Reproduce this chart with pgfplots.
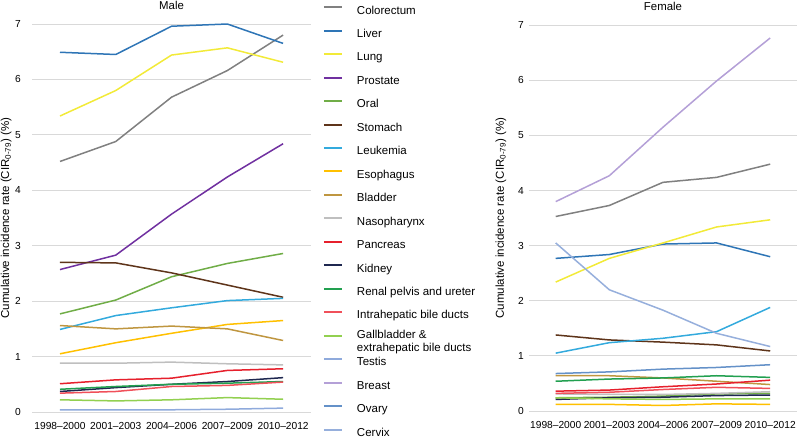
\documentclass[border=0pt]{standalone}
\usepackage{fontspec}
\setmainfont{Liberation Sans}
\usepackage{pgfplots}
\pgfplotsset{compat=1.18}

\definecolor{ccolorectum}{RGB}{128,128,128}
\definecolor{cliver}{RGB}{46,117,182}
\definecolor{clung}{RGB}{242,234,56}
\definecolor{cprostate}{RGB}{112,48,160}
\definecolor{coral}{RGB}{112,173,71}
\definecolor{cstomach}{RGB}{94,52,26}
\definecolor{cleukemia}{RGB}{51,170,221}
\definecolor{cesophagus}{RGB}{255,192,0}
\definecolor{cbladder}{RGB}{191,150,64}
\definecolor{cnaso}{RGB}{191,191,191}
\definecolor{cpancreas}{RGB}{230,32,44}
\definecolor{ckidney}{RGB}{31,40,80}
\definecolor{crenal}{RGB}{34,160,80}
\definecolor{cintrahep}{RGB}{240,80,90}
\definecolor{cgall}{RGB}{146,208,80}
\definecolor{ctestis}{RGB}{143,170,220}
\definecolor{cbreast}{RGB}{180,160,215}
\definecolor{covary}{RGB}{100,145,200}
\definecolor{ccervix}{RGB}{150,175,220}
\definecolor{gridgray}{RGB}{217,217,217}

\pgfplotsset{
  panel/.style={
    scale only axis,
    anchor=south west,
    xmin=-0.5, xmax=4.5, ymin=0, ymax=7,
    xtick={0,1,2,3,4},
    xticklabels={1998--2000,2001--2003,2004--2006,2007--2009,2010--2012},
    ytick={0,1,2,3,4,5,6,7},
    ymajorgrids, grid style={gridgray, line width=0.9pt},
    axis line style={draw=none},
    major tick length=0pt,
    /pgf/number format/assume math mode=true,
    tick label style={font=\fontsize{10.2}{12}\selectfont, inner sep=0pt},
    xticklabel style={anchor=north, yshift=-10.5pt},
    every axis title/.style={font=\fontsize{11.4}{13}\selectfont, at={(0.5,1)}, anchor=base, yshift=15pt, inner sep=0pt},
    ylabel={Cumulative incidence rate (CIR\textsubscript{0-79}) (\%)},
    every axis plot/.append style={line width=1.5pt},
    clip=false,
  },
}

\begin{document}
\begin{tikzpicture}
\begin{axis}[panel,
  at={(32.1pt,25pt)}, width=278.9pt, height=388pt,
  title={Male},
  yticklabel style={anchor=east, xshift=-11pt},
  every axis y label/.style={at={(rel axis cs:0,0.5)}, xshift=-26pt, rotate=90, anchor=center,
    font=\fontsize{11.5}{13}\selectfont},
  legend cell align=left,
  legend image code/.code={\draw[#1, line width=2pt] (0pt,4pt) -- (18pt,4pt);},
  legend style={draw=none, fill=none, inner sep=0pt, outer sep=0pt,
    at={(1.043,1.0477)}, anchor=north west,
    font=\fontsize{11.5}{13.5}\selectfont,
    column sep=14pt, row sep=11.96pt,
    nodes={inner sep=0pt, text height=8.5pt, text depth=3pt}},
]
\addplot[ccolorectum] coordinates {(0,4.52)(1,4.88)(2,5.68)(3,6.16)(4,6.80)};
\addlegendentry{Colorectum}
\addplot[cliver] coordinates {(0,6.49)(1,6.45)(2,6.96)(3,7.00)(4,6.65)};
\addlegendentry{Liver}
\addplot[clung] coordinates {(0,5.34)(1,5.80)(2,6.44)(3,6.57)(4,6.31)};
\addlegendentry{Lung}
\addplot[cprostate] coordinates {(0,2.57)(1,2.83)(2,3.57)(3,4.24)(4,4.84)};
\addlegendentry{Prostate}
\addplot[coral] coordinates {(0,1.77)(1,2.02)(2,2.44)(3,2.68)(4,2.86)};
\addlegendentry{Oral}
\addplot[cstomach] coordinates {(0,2.70)(1,2.69)(2,2.51)(3,2.29)(4,2.07)};
\addlegendentry{Stomach}
\addplot[cleukemia] coordinates {(0,1.49)(1,1.74)(2,1.88)(3,2.01)(4,2.05)};
\addlegendentry{Leukemia}
\addplot[cesophagus] coordinates {(0,1.05)(1,1.25)(2,1.42)(3,1.58)(4,1.65)};
\addlegendentry{Esophagus}
\addplot[cbladder] coordinates {(0,1.56)(1,1.50)(2,1.55)(3,1.50)(4,1.29)};
\addlegendentry{Bladder}
\addplot[cnaso] coordinates {(0,0.88)(1,0.88)(2,0.90)(3,0.87)(4,0.85)};
\addlegendentry{Nasopharynx}
\addplot[cpancreas] coordinates {(0,0.51)(1,0.58)(2,0.61)(3,0.75)(4,0.78)};
\addlegendentry{Pancreas}
\addplot[ckidney] coordinates {(0,0.37)(1,0.44)(2,0.50)(3,0.55)(4,0.62)};
\addlegendentry{Kidney}
\addplot[crenal] coordinates {(0,0.41)(1,0.46)(2,0.50)(3,0.52)(4,0.55)};
\addlegendentry{Renal pelvis and ureter}
\addplot[cintrahep] coordinates {(0,0.34)(1,0.37)(2,0.46)(3,0.48)(4,0.54)};
\addlegendentry{Intrahepatic bile ducts}
\addplot[cgall] coordinates {(0,0.22)(1,0.20)(2,0.22)(3,0.26)(4,0.23)};
\addlegendentry{\smash{\raisebox{4pt}{\begin{tabular}[t]{@{}l@{}}Gallbladder \&\\extrahepatic bile ducts\end{tabular}}}}
\addplot[ctestis] coordinates {(0,0.04)(1,0.04)(2,0.04)(3,0.05)(4,0.07)};
\addlegendentry{Testis}
\addlegendimage{cbreast}
\addlegendentry{Breast}
\addlegendimage{covary}
\addlegendentry{Ovary}
\addlegendimage{ccervix}
\addlegendentry{Cervix}
\end{axis}

\begin{axis}[panel,
  at={(528.9pt,26pt)}, width=268.1pt, height=385.7pt,
  title={Female},
  yticklabel style={anchor=east, xshift=-5pt},
  every axis y label/.style={at={(rel axis cs:0,0.5)}, xshift=-28pt, rotate=90, anchor=center,
    font=\fontsize{11.5}{13}\selectfont},
]
\addplot[ccolorectum] coordinates {(0,3.53)(1,3.73)(2,4.15)(3,4.24)(4,4.48)};
\addplot[cliver] coordinates {(0,2.77)(1,2.84)(2,3.03)(3,3.05)(4,2.80)};
\addplot[clung] coordinates {(0,2.34)(1,2.77)(2,3.05)(3,3.34)(4,3.47)};
\addplot[cbreast] coordinates {(0,3.80)(1,4.27)(2,5.15)(3,5.99)(4,6.77)};
\addplot[coral] coordinates {(0,0.24)(1,0.25)(2,0.27)(3,0.31)(4,0.32)};
\addplot[cstomach] coordinates {(0,1.38)(1,1.29)(2,1.25)(3,1.20)(4,1.09)};
\addplot[cleukemia] coordinates {(0,1.05)(1,1.24)(2,1.32)(3,1.44)(4,1.88)};
\addplot[cesophagus] coordinates {(0,0.12)(1,0.12)(2,0.10)(3,0.13)(4,0.12)};
\addplot[cbladder] coordinates {(0,0.64)(1,0.64)(2,0.60)(3,0.54)(4,0.48)};
\addplot[cnaso] coordinates {(0,0.31)(1,0.30)(2,0.30)(3,0.32)(4,0.35)};
\addplot[cpancreas] coordinates {(0,0.36)(1,0.38)(2,0.44)(3,0.49)(4,0.56)};
\addplot[ckidney] coordinates {(0,0.21)(1,0.24)(2,0.25)(3,0.28)(4,0.29)};
\addplot[crenal] coordinates {(0,0.54)(1,0.58)(2,0.60)(3,0.64)(4,0.61)};
\addplot[cintrahep] coordinates {(0,0.32)(1,0.34)(2,0.39)(3,0.43)(4,0.41)};
\addplot[cgall] coordinates {(0,0.24)(1,0.22)(2,0.21)(3,0.22)(4,0.22)};
\addplot[covary] coordinates {(0,0.68)(1,0.71)(2,0.76)(3,0.79)(4,0.84)};
\addplot[ccervix] coordinates {(0,3.05)(1,2.20)(2,1.83)(3,1.41)(4,1.17)};
\end{axis}
\pgfresetboundingbox
\path[use as bounding box] (0,0) rectangle (797pt,437pt);
\end{tikzpicture}
\end{document}
